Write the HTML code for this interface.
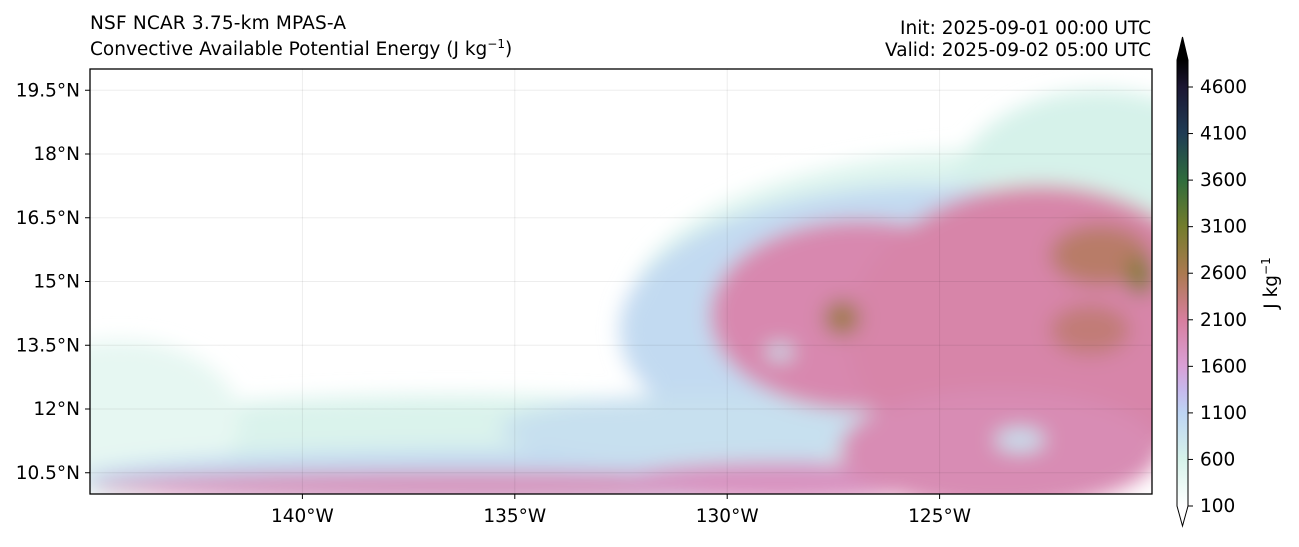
<!DOCTYPE html>
<html><head><meta charset="utf-8">
<style>
body{margin:0;background:#fff;width:1299px;height:542px;overflow:hidden;}
svg text{font-family:"DejaVu Sans","Liberation Sans",sans-serif;font-size:18.5px;fill:#000;}
</style></head><body>
<svg id="chart" width="1299" height="542" viewBox="0 0 1299 542" xmlns="http://www.w3.org/2000/svg">
<defs>
<filter id="blur" x="-50%" y="-50%" width="200%" height="200%"><feGaussianBlur stdDeviation="10"/></filter>
<clipPath id="clip"><rect x="90" y="69" width="1062" height="425"/></clipPath>
<linearGradient id="cbgrad" x1="0" y1="1" x2="0" y2="0"></linearGradient>
</defs>
<text x="90" y="29" font-size="17.5" textLength="256">NSF NCAR 3.75-km MPAS-A</text>
<text x="90" y="55" font-size="17.5">Convective Available Potential Energy (J kg<tspan dy="-7" font-size="12">−1</tspan><tspan dy="7">)</tspan></text>
<text x="1151" y="34" text-anchor="end">Init: 2025-09-01 00:00 UTC</text>
<text x="1151" y="56" text-anchor="end">Valid: 2025-09-02 05:00 UTC</text>
<g id="field" clip-path="url(#clip)"></g>
<g id="grid"></g>
<rect x="90" y="69" width="1062" height="425" fill="none" stroke="#000" stroke-width="1.3"/>
<g id="axes"></g>
<g id="colorbar"></g>
</svg>
<script>
const latTicks=[19.5,18,16.5,15,13.5,12,10.5];
const lonTicks=[-140,-135,-130,-125];
const cbTicks=[100,600,1100,1600,2100,2600,3100,3600,4100,4600];
const cmapValues=[100,600,1100,1350,1600,2100,2600,3100,3600,4100,4600,5000];
const cmapColors=["#ffffff","#d6f2ea","#bdd4f3","#c7b8ec","#d9a0d6","#d77e9e","#ab7a50","#737c2c","#2f6c3c","#1f3c55","#1b1632","#000000"];
// blobs: lon, lat, lon-radius, lat-radius (deg), CAPE
const blobLon=[-123.58,-121.22,-125.23,-136.53,-144.29,-135.35,-130.64,-136.05,-128.76,-126.87,-122.64,-123.58,-127.3,-121.22,-120.28,-121.46,-123.11,-128.76];
const blobLat=[14.33,16.92,13.86,11.04,11.74,10.38,11.51,10.19,10.28,14.21,13.74,11.04,14.14,15.62,15.15,13.86,11.27,13.34];
const blobRlon=[8.71,3.53,7.3,9.89,2.82,9.89,4.71,8.95,3.77,3.53,4.47,3.77,0.42,1.18,0.33,0.94,0.59,0.33];
const blobRlat=[3.76,2.59,3.41,1.29,1.88,0.66,0.82,0.33,0.47,2.24,3.53,1.41,0.42,0.71,0.47,0.59,0.28,0.19];
const blobCape=[500,600,1000,550,400,1000,900,1850,1800,1950,2000,1900,2700,2450,2900,2350,900,900];

const xOf=lon=>90+(lon+145)*(1062/25);
const yOf=lat=>494-(lat-10)*(425/10);
const cbY=v=>506-(v-100)*(419/4500);
function color(v){
  if(v<=cmapValues[0])return cmapColors[0];
  for(let i=1;i<cmapValues.length;i++){
    if(v<=cmapValues[i]){
      const t=(v-cmapValues[i-1])/(cmapValues[i]-cmapValues[i-1]);
      const a=cmapColors[i-1],b=cmapColors[i];
      const c=k=>Math.round(parseInt(a.substr(k,2),16)*(1-t)+parseInt(b.substr(k,2),16)*t);
      return `rgb(${c(1)},${c(3)},${c(5)})`;
    }
  }
  return cmapColors[cmapColors.length-1];
}
const NS="http://www.w3.org/2000/svg";
function mk(tag,attrs,parent){const e=document.createElementNS(NS,tag);for(const k in attrs)e.setAttribute(k,attrs[k]);parent.appendChild(e);return e;}
const field=document.getElementById('field');
const fg=mk('g',{filter:'url(#blur)'},field);
blobLon.forEach((lon,i)=>{
  const e=mk('ellipse',{cx:xOf(lon),cy:yOf(blobLat[i]),rx:blobRlon[i]*1062/25,ry:blobRlat[i]*425/10,fill:color(blobCape[i])},fg);
  
  
});
const grid=document.getElementById('grid');
latTicks.forEach(l=>{mk('line',{x1:90,x2:1152,y1:yOf(l),y2:yOf(l),stroke:'#000','stroke-opacity':0.07},grid);});
lonTicks.forEach(l=>{mk('line',{y1:69,y2:494,x1:xOf(l),x2:xOf(l),stroke:'#000','stroke-opacity':0.07},grid);});
const axes=document.getElementById('axes');
latTicks.forEach(l=>{
  mk('line',{x1:85,x2:90,y1:yOf(l),y2:yOf(l),stroke:'#000'},axes);
  const t=mk('text',{x:80,y:yOf(l)+6,'text-anchor':'end'},axes);t.textContent=l+'°N';
  
  
});
lonTicks.forEach(l=>{
  mk('line',{x1:xOf(l),x2:xOf(l),y1:494,y2:499,stroke:'#000'},axes);
  const t=mk('text',{x:xOf(l),y:522,'text-anchor':'middle'},axes);t.textContent=(-l)+'°W';
  
  
});
const grad=document.getElementById('cbgrad');
const cbTop=60,cbBot=506;
cmapValues.forEach((v,i)=>{mk('stop',{offset:Math.max(0,Math.min(1,(cbBot-cbY(v))/(cbBot-cbTop))),'stop-color':cmapColors[i]},grad);});
const cb=document.getElementById('colorbar');
mk('rect',{x:1177,y:cbTop,width:11,height:cbBot-cbTop,fill:'url(#cbgrad)'},cb);
mk('polygon',{points:`1177,${cbTop} 1182.5,37 1188,${cbTop}`,fill:'#000'},cb);
mk('polygon',{points:`1177,${cbBot} 1182.5,526 1188,${cbBot}`,fill:'#fff'},cb);
mk('path',{d:`M1177,${cbTop} L1182.5,37 L1188,${cbTop} L1188,${cbBot} L1182.5,526 L1177,${cbBot} Z`,fill:'none',stroke:'#000','stroke-width':1},cb);
cbTicks.forEach(v=>{
  mk('line',{x1:1188,x2:1193,y1:cbY(v),y2:cbY(v),stroke:'#000'},cb);
  const t=mk('text',{x:1200,y:cbY(v)+6},cb);t.textContent=v;
  
  
});
const lab=mk('text',{x:0,y:0,transform:'translate(1277,283) rotate(-90)','text-anchor':'middle'},cb);
lab.innerHTML='J kg<tspan dy="-7" font-size="12">−1</tspan>';


</script>
</body></html>
